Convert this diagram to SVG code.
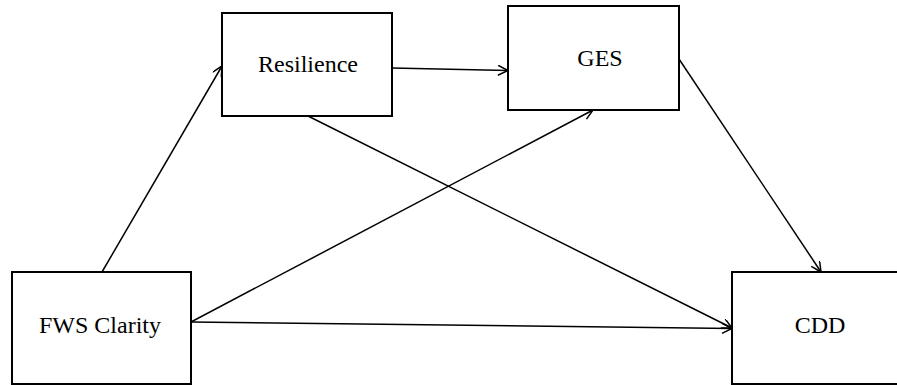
<svg xmlns="http://www.w3.org/2000/svg" width="897" height="385" viewBox="0 0 897 385">
<style>
.box{fill:#fff;stroke:#000;stroke-width:2}
.lbl{font-family:"Liberation Serif","Times New Roman",serif;font-size:24px;fill:#000;text-anchor:middle}
.edge{stroke:#000;stroke-width:1.5;fill:none;marker-end:url(#arr)}
</style>
<defs>
<marker id="arr" markerUnits="userSpaceOnUse" markerWidth="14" markerHeight="12" refX="11" refY="5" orient="auto">
<path d="M1,0 L11,5 L1,10" fill="none" stroke="#000" stroke-width="1.5"/>
</marker>
</defs>
<rect width="897" height="385" fill="#fff"/>
<g id="connectors">
<line class="edge" x1="102" y1="272" x2="222" y2="66"/>
<line class="edge" x1="392" y1="68" x2="508" y2="70.5"/>
<line class="edge" x1="308" y1="116" x2="732" y2="328"/>
<line class="edge" x1="191" y1="322" x2="593" y2="110"/>
<line class="edge" x1="191" y1="322" x2="732" y2="328.5"/>
<line class="edge" x1="679" y1="59" x2="821" y2="272"/>
</g>
<g id="resilience">
<rect class="box" x="222" y="13" width="170" height="103"/>
<text class="lbl" x="308" y="72">Resilience</text>
</g>
<g id="ges">
<rect class="box" x="508" y="6" width="171" height="104"/>
<text class="lbl" x="600" y="66">GES</text>
</g>
<g id="fws">
<rect class="box" x="12" y="272" width="179" height="112"/>
<text class="lbl" x="100" y="333">FWS Clarity</text>
</g>
<g id="cdd">
<rect class="box" x="732" y="272" width="176" height="112"/>
<text class="lbl" x="820" y="333">CDD</text>
</g>
</svg>
